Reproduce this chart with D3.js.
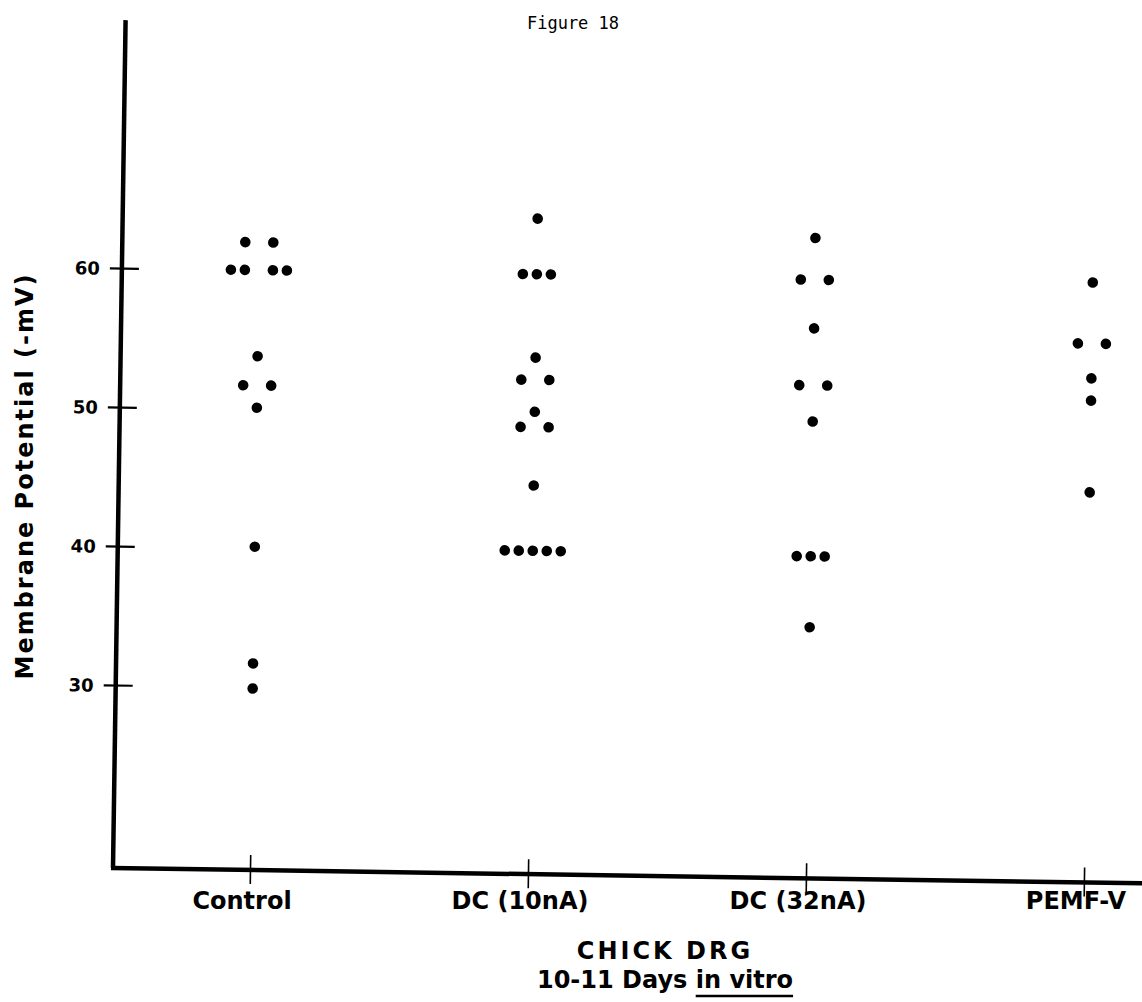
<!DOCTYPE html>
<html>
<head>
<meta charset="utf-8">
<script src="https://cdn.jsdelivr.net/npm/d3@7"></script>
<style>
  body { margin: 0; background: #fff; }
  text { fill: #000; font-family: "DejaVu Sans", sans-serif; font-weight: bold; }
</style>
</head>
<body>
<svg id="chart" width="1142" height="1002"></svg>
<script>
// values (membrane potential, -mV)
var categories = ["Control", "DC (10nA)", "DC (32nA)", "PEMF-V"];
var controlValues = [62, 62, 60, 60, 60, 60, 53.8, 51.7, 51.7, 50.1, 40.1, 31.7, 29.9];
var dc10Values = [64, 60, 60, 60, 54, 52.4, 52.4, 50.1, 49, 49, 44.8, 40.1, 40.1, 40.1, 40.1, 40.1];
var dc32Values = [62.9, 59.9, 59.9, 56.4, 52.3, 52.3, 49.7, 40, 40, 40, 34.9];
var pemfValues = [60, 55.6, 55.6, 53.1, 51.5, 44.9];
var yTicks = [30, 40, 50, 60];

var seriesValues = [controlValues, dc10Values, dc32Values, pemfValues];

var svg = d3.select("#chart");

var x = d3.scalePoint().domain(categories).range([250, 1084]);
var y = d3.scaleLinear().domain([30, 60]).range([685, 268]);

var corner = [113, 868];

// the scanned page is a little tilted
var g = svg.append("g")
    .attr("transform", "rotate(0.85," + corner[0] + "," + corner[1] + ")");

// y axis
var yAxis = g.append("g")
    .attr("transform", "translate(" + corner[0] + ",0)")
    .call(d3.axisLeft(y).tickValues(yTicks).tickSize(12).tickPadding(10));
yAxis.select(".domain").remove();
yAxis.selectAll(".tick line").attr("x1", 17).attr("stroke", "#000").attr("stroke-width", 2.2);
yAxis.selectAll(".tick text")
    .style("font-size", "18px")
    .attr("dy", "0.36em");

g.append("line")
    .attr("x1", corner[0]).attr("y1", 20)
    .attr("x2", corner[0]).attr("y2", corner[1])
    .attr("stroke", "#000").attr("stroke-width", 4.5);

// x axis
var xAxis = g.append("g")
    .attr("transform", "translate(0," + corner[1] + ")")
    .call(d3.axisBottom(x).tickSize(14).tickFormat(""));
xAxis.select(".domain").remove();
xAxis.selectAll(".tick line").attr("y1", -15).attr("stroke", "#000").attr("stroke-width", 1.6);

g.append("line")
    .attr("x1", corner[0] - 2).attr("y1", corner[1])
    .attr("x2", 1160).attr("y2", corner[1])
    .attr("stroke", "#000").attr("stroke-width", 4.5);

// dots: equal values sit side by side, 14px apart
var step = 14;
categories.forEach(function(cat, i) {
  var groups = d3.group(seriesValues[i], function(v) { return v; });
  var pts = [];
  groups.forEach(function(vals, v) {
    var n = vals.length;
    var slots = [];
    if (n % 2 == 1) {
      for (var k = -(n - 1) / 2; k <= (n - 1) / 2; k++) slots.push(k);
    } else {
      for (var k = 1; k <= n / 2; k++) { slots.push(-k); slots.push(k); }
    }
    slots.forEach(function(s) { pts.push({cat: cat, value: v, slot: s}); });
  });
  g.selectAll(".dot-" + i)
    .data(pts)
    .enter().append("circle")
      .attr("cx", function(d) { return x(d.cat) + d.slot * step; })
      .attr("cy", function(d) { return y(d.value); })
      .attr("r", 5.3)
      .attr("fill", "#000");
});

// category labels (level, not tilted)
svg.selectAll(".cat-label")
    .data(categories)
    .enter().append("text")
      .attr("class", "cat-label")
      .attr("x", function(d) { return x(d) - 8; })
      .attr("y", 909)
      .attr("text-anchor", "middle")
      .style("font-size", "24px")
      .text(function(d) { return d; });

// y title
svg.append("text")
    .attr("transform", "translate(33,476) rotate(-90)")
    .attr("text-anchor", "middle")
    .style("font-size", "24px")
    .style("letter-spacing", "2px")
    .text("Membrane Potential (-mV)");

// figure title
svg.append("text")
    .attr("x", 573).attr("y", 29)
    .attr("text-anchor", "middle")
    .style("font-family", "'DejaVu Sans Mono', monospace")
    .style("font-weight", "normal")
    .style("font-size", "17px")
    .text("Figure 18");

// x title
svg.append("text")
    .attr("x", 665).attr("y", 959)
    .attr("text-anchor", "middle")
    .style("font-size", "24px")
    .style("letter-spacing", "3px")
    .text("CHICK DRG");

var sub = svg.append("text")
    .attr("x", 665).attr("y", 988)
    .attr("text-anchor", "middle")
    .style("font-size", "24px")
    .text("10-11 Days in vitro");

var node = sub.node(), full = "10-11 Days in vitro", idx = full.indexOf("in vitro");
var sx = node.getStartPositionOfChar(idx).x;
var len = node.getSubStringLength(idx, 8);
svg.append("line")
    .attr("x1", sx).attr("x2", sx + len)
    .attr("y1", 996).attr("y2", 996)
    .attr("stroke", "#000").attr("stroke-width", 2.5);
</script>
</body>
</html>
